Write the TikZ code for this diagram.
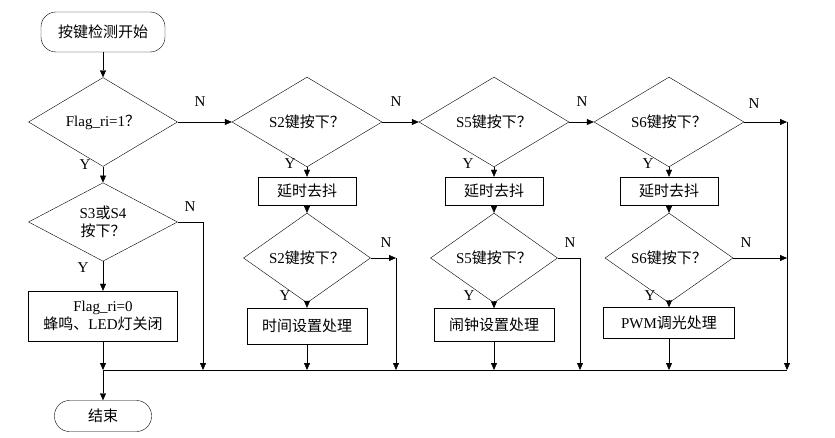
\documentclass[tikz,border=0pt]{standalone}
\usepackage{fontspec}
\setmainfont{Liberation Serif}
\newfontfamily\cjk{Noto Sans CJK SC}
\usetikzlibrary{shapes.geometric,arrows.meta}

\begin{document}
\begin{tikzpicture}[
  x=1pt, y=-1pt,
  font=\fontsize{15}{18}\selectfont,
  term/.style={draw, rounded corners=15pt, inner sep=0pt},
  dec/.style={draw, diamond, inner sep=0pt},
  proc/.style={draw, inner sep=0pt, align=center},
  arr/.style={-{Triangle[length=7pt,width=6pt]}},
  lbl/.style={inner sep=0pt}
]
\useasboundingbox (0,0) rectangle (835,438);
% main column
\node [term, minimum width=124pt, minimum height=40pt] (start) at (103,32) {\cjk 按键检测开始};
\node [dec, minimum width=149pt, minimum height=67pt] (flag) at (103,122) {Flag\_ri=1{\cjk ？}};
\node [dec, minimum width=149pt, minimum height=67pt, align=center] (s34) at (103,222) {S3{\cjk 或}S4\\{\cjk 按下？}};
\node [proc, minimum width=149pt, minimum height=50pt] (off) at (103,316) {Flag\_ri=0\\{\cjk 蜂鸣、}LED{\cjk 灯关闭}};
\node [term, minimum width=97pt, minimum height=31pt] (stop) at (103,416) {\cjk 结束};
\coordinate (bus) at (103,370);
\coordinate (busend) at (787,370);
\coordinate (s34n) at (203,370);
% S2 column
\node [dec, minimum width=150pt, minimum height=67pt] (s2a) at (307,122) {S2{\cjk 键按下？}};
\node [proc, minimum width=98pt, minimum height=28pt] (s2d) at (307,191) {\cjk 延时去抖};
\node [dec, minimum width=127pt, minimum height=56pt] (s2b) at (307,258) {S2{\cjk 键按下？}};
\node [proc, minimum width=120pt, minimum height=36pt] (s2p) at (307,326) {\cjk 时间设置处理};
\coordinate (s2n) at (396,258);
% S5 column
\node [dec, minimum width=150pt, minimum height=67pt] (s5a) at (494,122) {S5{\cjk 键按下？}};
\node [proc, minimum width=98pt, minimum height=28pt] (s5d) at (494,191) {\cjk 延时去抖};
\node [dec, minimum width=127pt, minimum height=56pt] (s5b) at (494,258) {S5{\cjk 键按下？}};
\node [proc, minimum width=120pt, minimum height=33pt] (s5p) at (494,325) {\cjk 闹钟设置处理};
\coordinate (s5n) at (580,258);
% S6 column
\node [dec, minimum width=150pt, minimum height=67pt] (s6a) at (669,122) {S6{\cjk 键按下？}};
\node [proc, minimum width=98pt, minimum height=28pt] (s6d) at (669,191) {\cjk 延时去抖};
\node [dec, minimum width=128pt, minimum height=56pt] (s6b) at (669,258) {S6{\cjk 键按下？}};
\node [proc, minimum width=131pt, minimum height=31pt] (s6p) at (669,323) {PWM{\cjk 调光处理}};
\coordinate (s6n) at (787,122);
\coordinate (s6bn) at (787,258);
% connectors
\draw [arr] (start) -- (flag);
\draw [arr] (flag) -- (s34);
\draw [arr] (s34) -- (off);
\draw [arr] (off) -- (bus);
\draw [arr] (bus) -- (stop);
\draw (bus) -- (busend);
\draw [arr] (s34.east) -| (s34n);
\draw [arr] (flag) -- (s2a);
\draw [arr] (s2a) -- (s5a);
\draw [arr] (s5a) -- (s6a);
\draw [arr] (s6a) -- (s6n);
\draw [arr] (s6n) -- (busend);
\draw [arr] (s6b) -- (s6bn);
\foreach \c/\n in {s2/s2n, s5/s5n, s6/s6n} {
  \draw [arr] (\c a) -- (\c d);
  \draw [arr] (\c d) -- (\c b);
  \draw [arr] (\c b) -- (\c p);
  \draw [arr] (\c p) -- (\c p |- bus);
}
\draw [arr] (s2b) -- (s2n);
\draw [arr] (s2n) -- (s2n |- bus);
\draw [arr] (s5b.east) -| (s5n |- bus);
% labels
\foreach \t/\x/\y in {N/200/102, Y/85/165, N/190/207, Y/83/268,
  N/396/102, Y/290/164, N/386/243, Y/285/296,
  N/582/102, Y/468/164, N/570/243, Y/469/296,
  N/754/104, Y/648/164, N/746/243, Y/650/296}
  \node [lbl] at (\x,\y) {\t};
\end{tikzpicture}
\end{document}
